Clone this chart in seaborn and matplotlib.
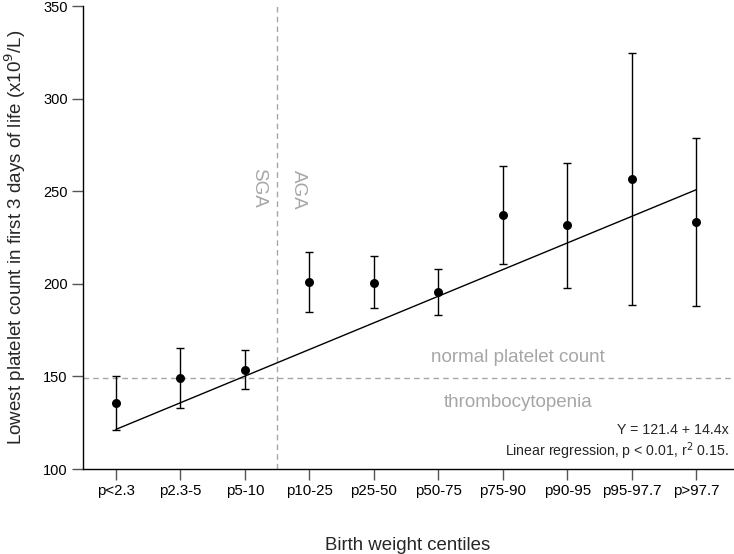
import matplotlib
matplotlib.use("Agg")
import matplotlib.pyplot as plt
import seaborn as sns
import pandas as pd
import numpy as np

categories = ["p<2.3", "p2.3-5", "p5-10", "p10-25", "p25-50", "p50-75",
              "p75-90", "p90-95", "p95-97.7", "p>97.7"]
means = [135.5, 149.1, 153.6, 201.1, 200.8, 195.6, 237.5, 231.7, 256.6, 233.5]
upper = [150.0, 165.2, 164.3, 217.3, 214.9, 208.0, 264.0, 265.6, 324.6, 278.7]
lower = [120.9, 133.0, 143.2, 184.9, 186.8, 183.0, 210.9, 197.9, 188.6, 188.2]
reg_intercept = 121.4
reg_slope = 14.4
threshold = 149
y_ticks = [100, 150, 200, 250, 300, 350]

sns.set_theme(style="ticks")
plt.rcParams["font.family"] = ["Liberation Sans", "DejaVu Sans"]

df = pd.DataFrame({"x": np.arange(len(categories)), "mean": means,
                   "upper": upper, "lower": lower})
reg = pd.DataFrame({"x": [0, len(categories) - 1]})
reg["y"] = reg_intercept + reg_slope * reg["x"]

fig = plt.figure(figsize=(7.34, 5.54), dpi=100)
ax = fig.add_axes([0.113, 0.1534, 0.886, 0.835])

grey = "#a6a6a6"
ax.axhline(threshold, color=grey, lw=1, ls=(0, (4, 3)), zorder=1)
ax.axvline(2.5, color=grey, lw=1, ls=(0, (4, 3)), zorder=1)

sns.lineplot(data=reg, x="x", y="y", color="black", lw=1, ax=ax, zorder=2)
ax.errorbar(df["x"], df["mean"],
            yerr=[df["mean"] - df["lower"], df["upper"] - df["mean"]],
            fmt="none", ecolor="black", elinewidth=1, capsize=3.2,
            capthick=1, zorder=3)
sns.scatterplot(data=df, x="x", y="mean", color="black", s=42,
                edgecolor="black", linewidth=0, ax=ax, zorder=4)

ax.set_xlim(-0.51, 9.57)
ax.set_ylim(100, 350)
ax.set_yticks(y_ticks)
ax.set_xticks(df["x"])
ax.set_xticklabels(categories)
ax.tick_params(axis="both", direction="out", length=8, width=1, color="#555555",
               pad=3, labelcolor="black")
ax.tick_params(axis="y", labelsize=10.5)
ax.tick_params(axis="x", labelsize=10.8)
sns.despine(ax=ax)
for s in ["left", "bottom"]:
    ax.spines[s].set_linewidth(1)
    ax.spines[s].set_color("black")

ax.set_ylabel("Lowest platelet count in first 3 days of life (x10$^{9}$/L)",
              fontsize=13.5, labelpad=11)
ax.set_xlabel("Birth weight centiles", fontsize=13.4, labelpad=28)

ax.text(6.23, 160, "normal platelet count", color=grey, fontsize=13.5,
        ha="center", va="center")
ax.text(6.23, 136, "thrombocytopenia", color=grey, fontsize=13.5,
        ha="center", va="center")
ax.text(2.22, 252, "SGA", color=grey, fontsize=13.5, rotation=270,
        ha="center", va="center")
ax.text(2.83, 251, "AGA", color=grey, fontsize=13.5, rotation=270,
        ha="center", va="center")

narrow = ["Liberation Sans Narrow", "Liberation Sans", "DejaVu Sans"]
ax.text(9.5, 121, "Y = 121.4 + 14.4x", fontsize=10.2, ha="right", va="center",
        family=narrow)
ax.text(9.5, 109.5, "Linear regression, p < 0.01, r$^{2}$ 0.15.", fontsize=10.2,
        ha="right", va="center", family=narrow)

fig.savefig("out.png", dpi=100)
